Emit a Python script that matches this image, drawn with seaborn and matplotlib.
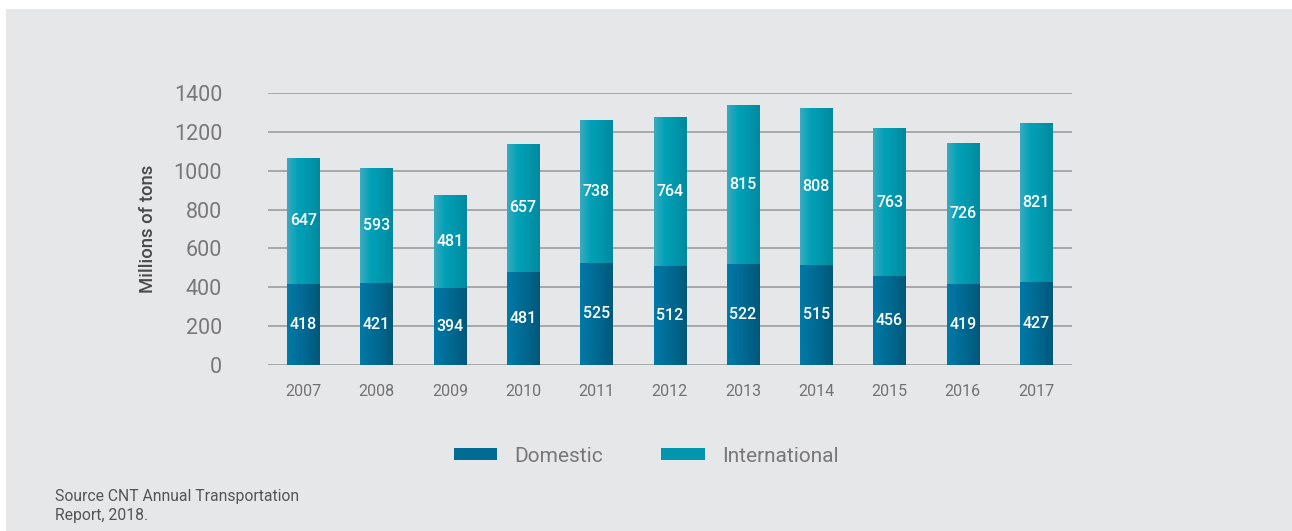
import numpy as np
import pandas as pd
import matplotlib
matplotlib.use("Agg")
import matplotlib.pyplot as plt
from matplotlib.patches import Rectangle, Patch
from matplotlib.colors import LinearSegmentedColormap
import seaborn as sns

years = ["2007", "2008", "2009", "2010", "2011", "2012", "2013", "2014", "2015", "2016", "2017"]
domestic = [418, 421, 394, 481, 525, 512, 522, 515, 456, 419, 427]
international = [647, 593, 481, 657, 738, 764, 815, 808, 763, 726, 821]
y_ticks = [0, 200, 400, 600, 800, 1000, 1200, 1400]
legend_labels = ["Domestic", "International"]
y_label = "Millions of tons"
source_text = "Source CNT Annual Transportation\nReport, 2018."

df = pd.DataFrame({"year": years, "domestic": domestic, "international": international})
df["total"] = df["domestic"] + df["international"]

sns.set_theme(style="white")
plt.rcParams["font.family"] = ["Roboto", "DejaVu Sans"]

W, H = 1292, 531
fig = plt.figure(figsize=(W / 100, H / 100), dpi=100, facecolor="white")
bg = "#e6e7e9"
fig.patches.append(Rectangle((6 / W, 0), 1, 1 - 9 / H, transform=fig.transFigure,
                             facecolor=bg, edgecolor="none", zorder=-10))

ax = fig.add_axes([268 / W, 1 - 365 / H, (1072 - 268) / W, (365 - 93) / H])
ax.set_facecolor("none")

dom_col = "#006c93"
int_col = "#0097ae"
sns.barplot(data=df, x="year", y="total", color=int_col, width=0.44,
            saturation=1, ax=ax, zorder=3, edgecolor="none")
sns.barplot(data=df, x="year", y="domestic", color=dom_col, width=0.44,
            saturation=1, ax=ax, zorder=4, edgecolor="none")

# horizontal gradients clipped to bars
dom_cmap = LinearSegmentedColormap.from_list("d", ["#007aa8", "#006a92", "#00587a"])
int_cmap = LinearSegmentedColormap.from_list("i", ["#3aaabf", "#00a1b7", "#0096ac", "#0089a0"])
grad = np.linspace(0, 1, 64).reshape(1, -1)
n = len(years)
for i, p in enumerate(ax.patches):
    cmap = int_cmap if i < n else dom_cmap
    x0, y0 = p.get_x(), p.get_y()
    w, h = p.get_width(), p.get_height()
    im = ax.imshow(grad, cmap=cmap, aspect="auto", extent=(x0, x0 + w, y0, y0 + h),
                   zorder=p.get_zorder() + 0.5, interpolation="bicubic")
    im.set_clip_path(p)

for i in range(n):
    ax.text(i, domestic[i] / 2, str(domestic[i]), ha="center", va="center",
            color="white", fontsize=11.5, fontweight="medium", zorder=10)
    ax.text(i, domestic[i] + international[i] / 2, str(international[i]), ha="center",
            va="center", color="white", fontsize=11.5, fontweight="medium", zorder=10)

ax.set_xlim(-0.48, n - 1 + 0.49)
ax.set_ylim(0, 1400)
ax.set_yticks(y_ticks)
ax.set_yticklabels([str(t) for t in y_ticks])
ax.yaxis.grid(True, color="#a3a3a3", linewidth=1.3, zorder=0)
ax.set_axisbelow(True)
for s in ax.spines.values():
    s.set_visible(False)
ax.tick_params(axis="y", length=0, pad=33, labelsize=15.5, labelcolor="#787878")
ax.tick_params(axis="x", length=0, pad=14, labelsize=11.5, labelcolor="#727272")
ax.set_xlabel("")
ax.set_ylabel(y_label, fontsize=13.3, color="#4a4a4a", fontweight="medium", labelpad=12)
ax.set_ylim(0, 1400)

handles = [Patch(facecolor=dom_col, edgecolor="none"), Patch(facecolor=int_col, edgecolor="none")]
leg = fig.legend(handles, legend_labels, loc="center", bbox_to_anchor=(0.5, 1 - 456 / H),
                 ncol=2, frameon=False, fontsize=15, handlelength=2.1, handleheight=0.55,
                 handletextpad=0.8, columnspacing=2.8, labelcolor="#787878")

fig.text(55 / W, 1 - 506 / H, source_text, ha="left", va="center", fontsize=11.3,
         color="#555555", linespacing=1.4)

fig.savefig("out.png", dpi=100, facecolor="white")
